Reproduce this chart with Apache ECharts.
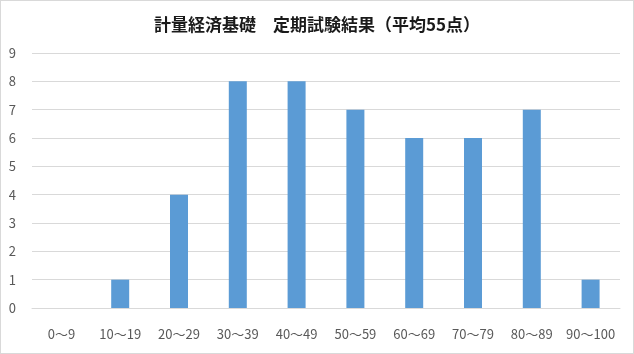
<!DOCTYPE html>
<html>
<head>
<meta charset="utf-8">
<script src="https://cdn.jsdelivr.net/npm/echarts@6/dist/echarts.min.js"></script>
<style>
  html, body { margin: 0; padding: 0; background: #fff; }
  #main { width: 632px; height: 352px; border: 1px solid #d9d9d9; }
</style>
</head>
<body>
<div id="main"></div>
<script>
var categories = ['0〜9', '10〜19', '20〜29', '30〜39', '40〜49', '50〜59', '60〜69', '70〜79', '80〜89', '90〜100'];
var counts = [0, 1, 4, 8, 8, 7, 6, 6, 7, 1];

var chart = echarts.init(document.getElementById('main'));
var option = {
    animation: false,
    title: {
        text: '計量経済基礎　定期試験結果（平均55点）',
        left: 'center',
        top: 10,
        textStyle: {
            fontFamily: 'Noto Sans CJK JP',
            fontSize: 17,
            fontWeight: 'bold',
            color: '#1a1a1a'
        }
    },
    grid: {
        left: 31,
        right: 13,
        top: 52,
        bottom: 45
    },
    xAxis: {
        type: 'category',
        data: categories,
        axisLine: { show: true, lineStyle: { color: '#d9d9d9' } },
        axisTick: { show: false },
        axisLabel: {
            color: '#595959',
            fontSize: 13,
            margin: 20,
            interval: 0,
            fontFamily: 'Noto Sans CJK JP'
        }
    },
    yAxis: {
        type: 'value',
        min: 0,
        max: 9,
        interval: 1,
        axisLine: { show: false },
        axisTick: { show: false },
        axisLabel: {
            color: '#595959',
            fontSize: 13,
            margin: 16,
            fontFamily: 'Noto Sans CJK JP'
        },
        splitLine: { lineStyle: { color: '#d9d9d9' } }
    },
    series: [{
        type: 'bar',
        data: counts,
        barWidth: 18,
        itemStyle: { color: '#5b9bd5' }
    }]
};
chart.setOption(option);
</script>
</body>
</html>
